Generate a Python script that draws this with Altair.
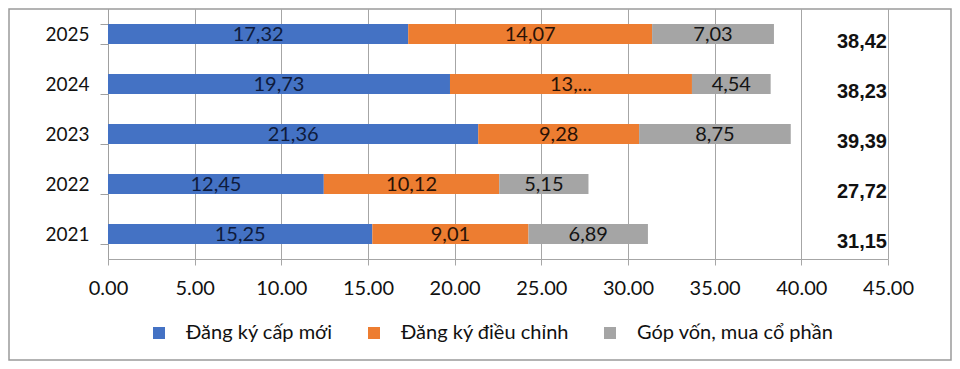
import altair as alt
import pandas as pd

years = ["2025", "2024", "2023", "2022", "2021"]
series = ["Đăng ký cấp mới", "Đăng ký điều chỉnh", "Góp vốn, mua cổ phần"]
new_reg = [17.32, 19.73, 21.36, 12.45, 15.25]
adjust = [14.07, 13.96, 9.28, 10.12, 9.01]
capital = [7.03, 4.54, 8.75, 5.15, 6.89]
totals = [38.42, 38.23, 39.39, 27.72, 31.15]
# label shown in the chart (2024 adjustment label is truncated in the original)
adjust_labels = ["14,07", "13,...", "9,28", "10,12", "9,01"]

colors = ["#4472C4", "#ED7D31", "#A5A5A5"]
text_colors = ["#0e1b3d", "#2a1206", "#141414"]
FONT = "Lato"


def fmt(v):
    return f"{v:.2f}".replace(".", ",")


rows = []
for i, y in enumerate(years):
    vals = [new_reg[i], adjust[i], capital[i]]
    labs = [fmt(new_reg[i]), adjust_labels[i], fmt(capital[i])]
    for k, s in enumerate(series):
        rows.append({"year": y, "series": s, "order": k, "value": vals[k], "label": labs[k]})
df = pd.DataFrame(rows)
tot_df = pd.DataFrame({"year": years, "total": totals, "label": [fmt(t) for t in totals]})

yenc = alt.Y(
    "year:N",
    sort=years,
    title=None,
    scale=alt.Scale(paddingInner=0.6, paddingOuter=0.3),
    axis=alt.Axis(
        tickBand="extent",
        tickSize=8,
        tickColor="#a0a0a0",
        domainColor="#a0a0a0",
        labelFontSize=19,
        labelFont=FONT,
        labelColor="#111111",
        labelPadding=11,
        grid=False,
    ),
)

xscale = alt.Scale(domain=[0, 45], nice=False)

bars = alt.Chart(df).mark_bar().encode(
    x=alt.X(
        "value:Q",
        stack="zero",
        scale=xscale,
        title=None,
        axis=alt.Axis(
            values=list(range(0, 46, 5)),
            format=".2f",
            grid=True,
            gridColor="#a6a6a6",
            tickColor="#a6a6a6",
            domainColor="#a6a6a6",
            tickSize=6,
            labelFlush=False,
            labelFontSize=20,
            labelFont=FONT,
            labelColor="#111111",
            labelPadding=13,
        ),
    ),
    y=yenc,
    color=alt.Color(
        "series:N",
        scale=alt.Scale(domain=series, range=colors),
        legend=alt.Legend(
            title=None,
            orient="none",
            legendX=41,
            legendY=314,
            direction="horizontal",
            symbolType="square",
            symbolSize=144,
            symbolStrokeWidth=0,
            labelFontSize=20,
            labelFont=FONT,
            labelColor="#111111",
            labelOffset=17,
            columnPadding=31,
            labelLimit=400,
        ),
    ),
    order=alt.Order("order:Q"),
)

# center text within stacked segments
seg_text = alt.Chart(df).transform_stack(
    stack="value", groupby=["year"], as_=["x0", "x1"], sort=[alt.SortField("order")]
).transform_calculate(
    xm="(datum.x0 + datum.x1) / 2"
).mark_text(fontSize=20, font=FONT, dy=1).encode(
    x=alt.X("xm:Q", scale=xscale),
    y=alt.Y("year:N", sort=years),
    text="label:N",
    color=alt.Color("series:N", scale=alt.Scale(domain=series, range=text_colors), legend=None),
)

tot_text = alt.Chart(tot_df).mark_text(
    fontSize=20, font="Liberation Sans", fontWeight="bold", align="right", dy=8, dx=-1, color="#111111"
).encode(
    x=alt.X(datum=45, scale=xscale),
    y=alt.Y("year:N", sort=years),
    text="label:N",
)

border = alt.Chart(alt.Data(values=[{"a": 1}])).mark_rect(
    fill=None, stroke="#9a9a9a", strokeWidth=1.5
).encode(
    x=alt.value(-99), x2=alt.value(843), y=alt.value(0), y2=alt.value(351)
)

chart = (
    alt.layer(bars, seg_text, tot_text, border)
    .resolve_scale(color="independent")
    .properties(
        width=780,
        height=250,
        padding={"left": 100, "top": 1, "right": 64, "bottom": 102},
        autosize=alt.AutoSizeParams(type="none"),
        background="white",
    )
    .configure_view(stroke=None)
)

chart.save("out.html", embed_options={"renderer": "svg", "actions": False})
